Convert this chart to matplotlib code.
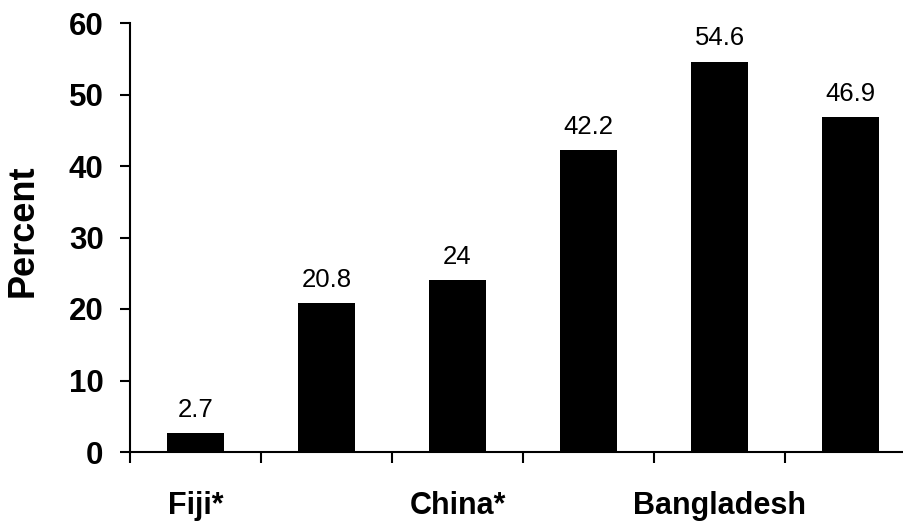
import numpy as np
import matplotlib
matplotlib.use("Agg")
import matplotlib.pyplot as plt

# values
percent = [2.7, 20.8, 24, 42.2, 54.6, 46.9]
bar_labels = ["2.7", "20.8", "24", "42.2", "54.6", "46.9"]
group_labels = ["Fiji*", "", "China*", "", "Bangladesh", ""]
yticks = [0, 10, 20, 30, 40, 50, 60]

plt.rcParams['font.family'] = ['Liberation Sans', 'DejaVu Sans']

fig = plt.figure(figsize=(9.04, 5.29), dpi=100)
ax = fig.add_axes([130 / 904, 77 / 529, 786 / 904, 429 / 529])

x = np.arange(len(percent))
ax.bar(x, percent, width=0.43, color='black')

for xi, v, s in zip(x, percent, bar_labels):
    ax.annotate(s, (xi, v), xytext=(0, 8), textcoords='offset points',
                ha='center', va='bottom', fontsize=18.5)

ax.set_xlim(-0.5, len(percent) - 0.5)
ax.set_ylim(0, 60)
ax.set_yticks(yticks)
ax.set_yticklabels([str(t) for t in yticks], fontsize=22.5, fontweight='bold')

# boundary ticks without labels, category names on invisible minor ticks
ax.set_xticks(np.arange(len(percent)) - 0.5)
ax.set_xticklabels([])
ax.set_xticks(x, minor=True)
ax.set_xticklabels(group_labels, minor=True, fontsize=22, fontweight='bold')
ax.tick_params(axis='x', which='minor', length=0, pad=28)
ax.tick_params(axis='x', which='major', length=8, width=1.5, direction='out')
ax.tick_params(axis='y', length=7, width=1.5, pad=12)

ax.set_ylabel("Percent", fontsize=26, fontweight='bold')
ax.yaxis.set_label_coords(-89 / 786, 0.515)

for side in ['top', 'right']:
    ax.spines[side].set_visible(False)
for side in ['left', 'bottom']:
    ax.spines[side].set_linewidth(1.5)

fig.savefig("out.png", dpi=100)
